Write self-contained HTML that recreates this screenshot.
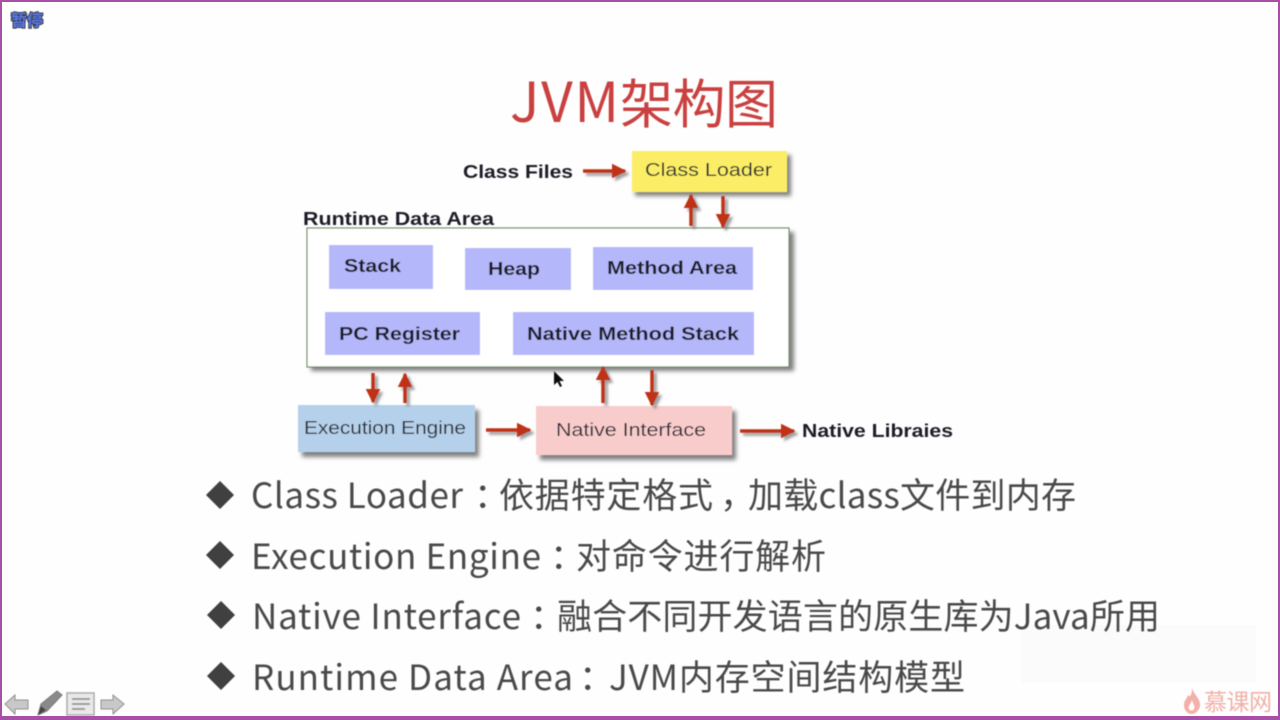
<!DOCTYPE html>
<html><head><meta charset="utf-8"><style>
html,body{margin:0;padding:0;background:#fff;width:1280px;height:720px;overflow:hidden}
svg{display:block}
.b{font-family:"Liberation Sans",sans-serif;font-weight:bold;font-size:18px;fill:#1e1e28}
.n{font-family:"Liberation Sans",sans-serif;font-size:18px;fill:#2c2c34}
.t{font-family:"Noto Sans CJK SC",sans-serif;font-size:35px;fill:#4a4a4a}
.c{font-family:"Noto Sans CJK SC",sans-serif;font-size:35px;fill:#4a4a4a}
</style></head><body>
<svg width="1280" height="720" viewBox="0 0 1280 720" xmlns="http://www.w3.org/2000/svg">
<defs>
<filter id="s" x="-20%" y="-20%" width="140%" height="140%"><feGaussianBlur stdDeviation="2"/></filter>
<filter id="a" x="-50%" y="-50%" width="200%" height="200%"><feGaussianBlur stdDeviation="1.2"/></filter>
<filter id="o" x="-30%" y="-30%" width="160%" height="160%"><feGaussianBlur stdDeviation="0.45"/></filter>
<marker id="h" viewBox="0 0 10 10" refX="9" refY="5" markerWidth="4.2" markerHeight="4.2" orient="auto"><path d="M0 0L10 5L0 10Z" fill="#c03018"/></marker>
<marker id="g" viewBox="0 0 10 10" refX="9" refY="5" markerWidth="4.2" markerHeight="4.2" orient="auto"><path d="M0 0L10 5L0 10Z" fill="#777"/></marker>
</defs>
<rect width="1280" height="720" fill="#fefefe"/>
<rect x="1022" y="625" width="234" height="58" fill="#fbfbfb"/>
<g filter="url(#o)" font-family="'Noto Sans CJK SC',sans-serif" fill="#c9403f">
<text x="510" y="122" font-size="55" textLength="109" lengthAdjust="spacing">JVM</text>
<text x="620" y="123" font-size="53" textLength="158" lengthAdjust="spacing">架构图</text>
</g>

<g filter="url(#o)">
<g fill="#808080" filter="url(#s)">
<rect x="635" y="155" width="156" height="41"/>
<rect x="311" y="232" width="483" height="139"/>
<rect x="302" y="410" width="177" height="47"/>
<rect x="540" y="411" width="196" height="49"/>
</g>
<rect x="632" y="151" width="155" height="41" fill="#fbee66"/>
<rect x="307" y="228" width="482" height="139" fill="#fff" stroke="#6f8a60" stroke-width="1.2"/>
<rect x="298" y="405" width="177" height="47" fill="#b5d0ea"/>
<rect x="536" y="406" width="196" height="49" fill="#f9cccc"/>
<g fill="#b4b8fb">
<rect x="329" y="245" width="104" height="44"/>
<rect x="465" y="248" width="106" height="42"/>
<rect x="593" y="247" width="160" height="43"/>
<rect x="325" y="312" width="155" height="43"/>
<rect x="513" y="312" width="241" height="43"/>
</g>
<g fill="none" stroke="#777" stroke-width="3.5" filter="url(#a)" transform="translate(3,3)" opacity="0.7">
<path d="M583 171H625" marker-end="url(#g)"/>
<path d="M691 226V195" marker-end="url(#g)"/>
<path d="M723 196V227" marker-end="url(#g)"/>
<path d="M373 373V402" marker-end="url(#g)"/>
<path d="M405 403V374" marker-end="url(#g)"/>
<path d="M603 403V367" marker-end="url(#g)"/>
<path d="M652 370V405" marker-end="url(#g)"/>
<path d="M486 430H530" marker-end="url(#g)"/>
<path d="M740 431H794" marker-end="url(#g)"/>
</g>
<g fill="none" stroke="#c03018" stroke-width="3.5">
<path d="M583 171H625" marker-end="url(#h)"/>
<path d="M691 226V195" marker-end="url(#h)"/>
<path d="M723 196V227" marker-end="url(#h)"/>
<path d="M373 373V402" marker-end="url(#h)"/>
<path d="M405 403V374" marker-end="url(#h)"/>
<path d="M603 403V367" marker-end="url(#h)"/>
<path d="M652 370V405" marker-end="url(#h)"/>
<path d="M486 430H530" marker-end="url(#h)"/>
<path d="M740 431H794" marker-end="url(#h)"/>
</g>
<text class="b" x="463" y="178" textLength="110" lengthAdjust="spacingAndGlyphs">Class Files</text>
<text class="n" x="645" y="176" textLength="127" lengthAdjust="spacingAndGlyphs">Class Loader</text>
<text class="b" x="303" y="225" textLength="191" lengthAdjust="spacingAndGlyphs">Runtime Data Area</text>
<text class="b" x="344" y="272" textLength="57" lengthAdjust="spacingAndGlyphs">Stack</text>
<text class="b" x="488" y="275" textLength="52" lengthAdjust="spacingAndGlyphs">Heap</text>
<text class="b" x="607" y="274" textLength="130" lengthAdjust="spacingAndGlyphs">Method Area</text>
<text class="b" x="339" y="340" textLength="121" lengthAdjust="spacingAndGlyphs">PC Register</text>
<text class="b" x="527" y="340" textLength="212" lengthAdjust="spacingAndGlyphs">Native Method Stack</text>
<text class="n" x="304" y="434" textLength="162" lengthAdjust="spacingAndGlyphs">Execution Engine</text>
<text class="n" x="556" y="436" textLength="150" lengthAdjust="spacingAndGlyphs">Native Interface</text>
<text class="b" x="802" y="437" textLength="151" lengthAdjust="spacingAndGlyphs">Native Libraies</text>
<path d="M554 371V385L557.500 382L560 387L562 386L559.500 381L564 381Z" fill="#111"/>
</g>

<g filter="url(#o)">
<g fill="#3f3f3f">
<path d="M206 495L220 481L234 495L220 509Z"/>
<path d="M206 555L220 541L234 555L220 569Z"/>
<path d="M207 615L221 601L235 615L221 629Z"/>
<path d="M207 676L221 662L235 676L221 690Z"/>
</g>
<text class="t" x="251" y="508" textLength="212" lengthAdjust="spacing">Class Loader</text>
<text class="c" x="474" y="508">：</text>
<text class="c" x="499" y="508" textLength="214" lengthAdjust="spacing">依据特定格式</text>
<text class="c" x="720" y="508">，</text>
<text class="c" x="748" y="508" textLength="328" lengthAdjust="spacing">加载class文件到内存</text>

<text class="t" x="251" y="569" textLength="290" lengthAdjust="spacing">Execution Engine</text>
<text class="c" x="550" y="569">：</text>
<text class="c" x="576" y="569" textLength="250" lengthAdjust="spacing">对命令进行解析</text>

<text class="t" x="252" y="629" textLength="269" lengthAdjust="spacing">Native Interface</text>
<text class="c" x="530" y="629">：</text>
<text class="c" x="557" y="629" textLength="603" lengthAdjust="spacing">融合不同开发语言的原生库为Java所用</text>

<text class="t" x="252" y="690" textLength="321" lengthAdjust="spacing">Runtime Data Area</text>
<text class="c" x="579" y="690">：</text>
<text class="c" x="609" y="690" textLength="356" lengthAdjust="spacing">JVM内存空间结构模型</text>
</g>

<text x="11" y="26" font-family="'Noto Sans CJK SC',sans-serif" font-weight="bold" font-size="16" fill="#5a78e0" stroke="#333" stroke-width="2" paint-order="stroke" textLength="32" filter="url(#o)">暂停</text>

<g filter="url(#o)">
<path d="M5 704L15 695V700H28V709H15V714Z" fill="#c8c8c8" stroke="#8e8e8e"/>
<path d="M38 715L41 704L57 691L62 695L47 711Z" fill="#8a8a8a" stroke="#777"/>
<path d="M38 715L41 706L46 710Z" fill="#444"/>
<rect x="67" y="693" width="27" height="22" fill="#e9e9e9" stroke="#aaa" stroke-width="1.500"/>
<path d="M72 699H90M72 704H90M72 709H85" stroke="#999" stroke-width="2"/>
<path d="M124 704L113 695V700H101V709H113V714Z" fill="#c8c8c8" stroke="#8e8e8e"/>
</g>

<g filter="url(#o)">
<path d="M1192 688C1194 695 1201 699 1200 706C1199 711 1195 714 1192 714C1187 714 1184 710 1184 705C1184 700 1187 699 1188 695C1190 698 1192 695 1192 688Z" fill="#f2b0a8"/>
<path d="M1192 700C1193 704 1195 706 1194 709C1193 711 1190 711 1189 709C1188 706 1191 704 1192 700Z" fill="#fff"/>
<text x="1204" y="710" font-family="'Noto Sans CJK SC',sans-serif" font-size="23" fill="#f0b0a8" textLength="68" lengthAdjust="spacing">慕课网</text>
</g>

<rect x="1" y="1" width="1278" height="716" fill="none" stroke="#a850a8" stroke-width="2"/>
<rect x="0" y="716" width="1280" height="4" fill="#a850a8"/>
</svg>
</body></html>
